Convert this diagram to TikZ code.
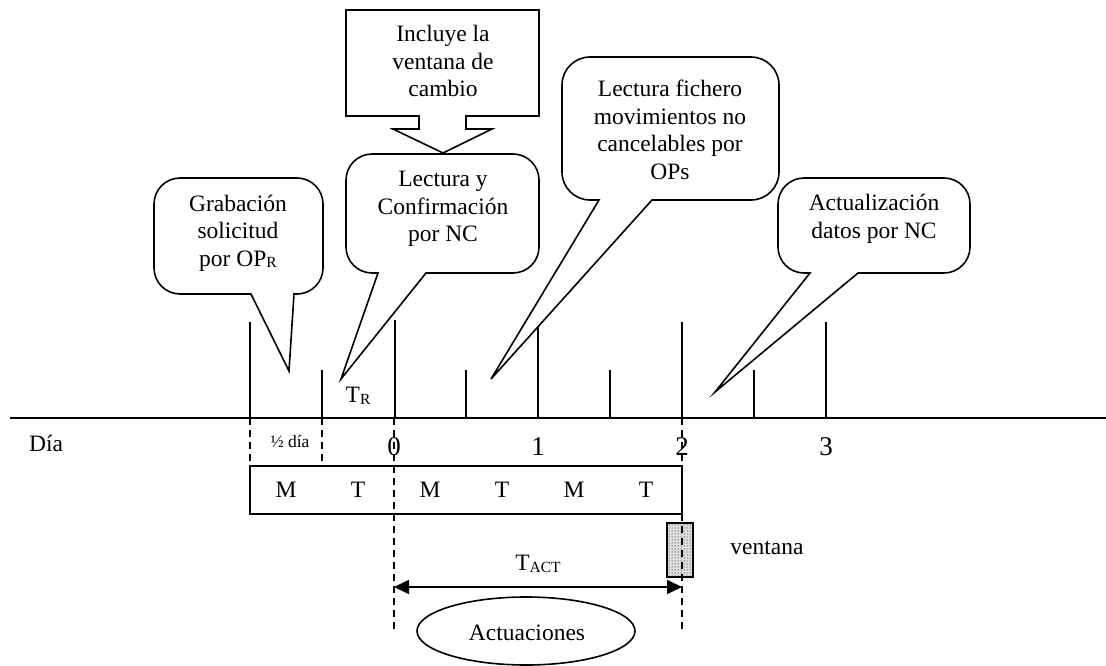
\documentclass[tikz,border=0pt]{standalone}
\usepackage{fontspec}
\setmainfont{Liberation Serif}
\usetikzlibrary{arrows.meta,patterns,shapes.geometric}
\newcommand{\sbx}[1]{\raisebox{-1.5pt}{\fontsize{15.5}{15.5}\selectfont #1}}
% L T R B r baseLeft baseRight tipX tipY
\newcommand{\mycallout}[9]{%
  \draw[calloutline] (#7,#4) -- ({#3-#5},#4)
    .. controls ({#3-0.448*#5},#4) and (#3,{#4-0.448*#5}) .. (#3,{#4-#5})
    -- (#3,{#2+#5})
    .. controls (#3,{#2+0.448*#5}) and ({#3-0.448*#5},#2) .. ({#3-#5},#2)
    -- ({#1+#5},#2)
    .. controls ({#1+0.448*#5},#2) and (#1,{#2+0.448*#5}) .. (#1,{#2+#5})
    -- (#1,{#4-#5})
    .. controls (#1,{#4-0.448*#5}) and ({#1+0.448*#5},#4) .. ({#1+#5},#4)
    -- (#6,#4) -- (#8,#9) -- cycle;}
\begin{document}
\begin{tikzpicture}[x=1pt,y=-1pt,
  every node/.style={font=\fontsize{23.5}{27.5}\selectfont, inner sep=0pt},
  lw/.style={line width=1.6pt},
  calloutline/.style={lw, fill=white, line join=miter},
  dashline/.style={lw, dash pattern=on 7pt off 5pt},
  txt/.style={align=center},
  daynum/.style={font=\fontsize{27}{27}\selectfont},
  tip/.style={{Triangle[length=15pt,width=14pt]}-{Triangle[length=15pt,width=14pt]}}]
\useasboundingbox (0,0) rectangle (1106,666);

% axis
\coordinate (axL) at (10,418);
\coordinate (axR) at (1106,418);
\draw[lw] (axL) -- (axR);

% ticks above axis
\foreach \x/\t in {250/322, 322/370, 395/320, 466/370, 538/322, 610/370, 682/322, 754/370, 826/322}
  \draw[lw] (\x,418) -- (\x,\t);

% dashed guides
\coordinate (g0) at (250,418); \coordinate (g0b) at (250,466);
\coordinate (g1) at (322,418); \coordinate (g1b) at (322,466);
\coordinate (g2) at (394,418); \coordinate (g2b) at (394,633);
\coordinate (g3) at (682,418); \coordinate (g3b) at (682,633);
\draw[dashline] (g0) -- (g0b);
\draw[dashline] (g1) -- (g1b);
\draw[dashline] (g2) -- (g2b);

% day labels
\node (dia) at (46,443) {Día};
\node[font=\fontsize{17.5}{17.5}\selectfont] (half) at (290,441) {½ día};
\node[daynum] (n0) at (394,447) {0};
\node[daynum] (n1) at (538,447) {1};
\node[daynum] (n2) at (682,447) {2};
\node[daynum] (n3) at (826,447) {3};

% M/T box
\draw[lw] (250,466) rectangle (682,514);
\foreach \x/\l in {286/M, 358/T, 430/M, 502/T, 574/M, 646/T}
  \node at (\x,490) {\l};

% ventana
\node[lw, draw, pattern=dots, preaction={fill=gray!25}, minimum width=26pt, minimum height=54pt] (win) at (680,550) {};
\draw[dashline] (g3) -- (g3b);
\node (vent) at (767,548) {ventana};

% T_ACT arrow
\coordinate (a0) at (394,587);
\coordinate (a2) at (682,587);
\draw[lw, tip] (a0) -- (a2);
\node (tact) at (538,564) {T\sbx{ACT}};

% Actuaciones
\node[lw, draw, ellipse, minimum width=218pt, minimum height=68pt] (act) at (526,631) {};
\node (acttxt) at (527,633) {Actuaciones};

% T_R
\node (tr) at (358,396) {T\sbx{R}};

% callouts
\mycallout{154}{178}{323}{294}{26}{251}{294}{289}{371}
\node[txt] (grab) at (238,233) {Grabación\\solicitud\\por OP\sbx{R}};

\mycallout{346}{154}{539}{273}{26}{378}{426}{341}{379}
\node[txt] (lect) at (443,209) {Lectura y\\Confirmación\\por NC};

\draw[calloutline] (346,10) -- (539,10) -- (539,116) -- (466,116) -- (466,129) -- (492,129)
  -- (443,153) -- (393,129) -- (419,129) -- (419,116) -- (346,116) -- cycle;
\node[txt] (incl) at (443,61) {Incluye la\\ventana de\\cambio};

\mycallout{562}{57}{779}{200}{28}{599}{652}{491}{379}
\node[txt] (fich) at (670,130) {Lectura fichero\\movimientos no\\cancelables por\\OPs};

\mycallout{778}{178}{970}{273}{26}{810}{858}{715}{392}
\node[txt] (actu) at (874,219) {Actualización\\datos por NC};
\end{tikzpicture}
\end{document}
